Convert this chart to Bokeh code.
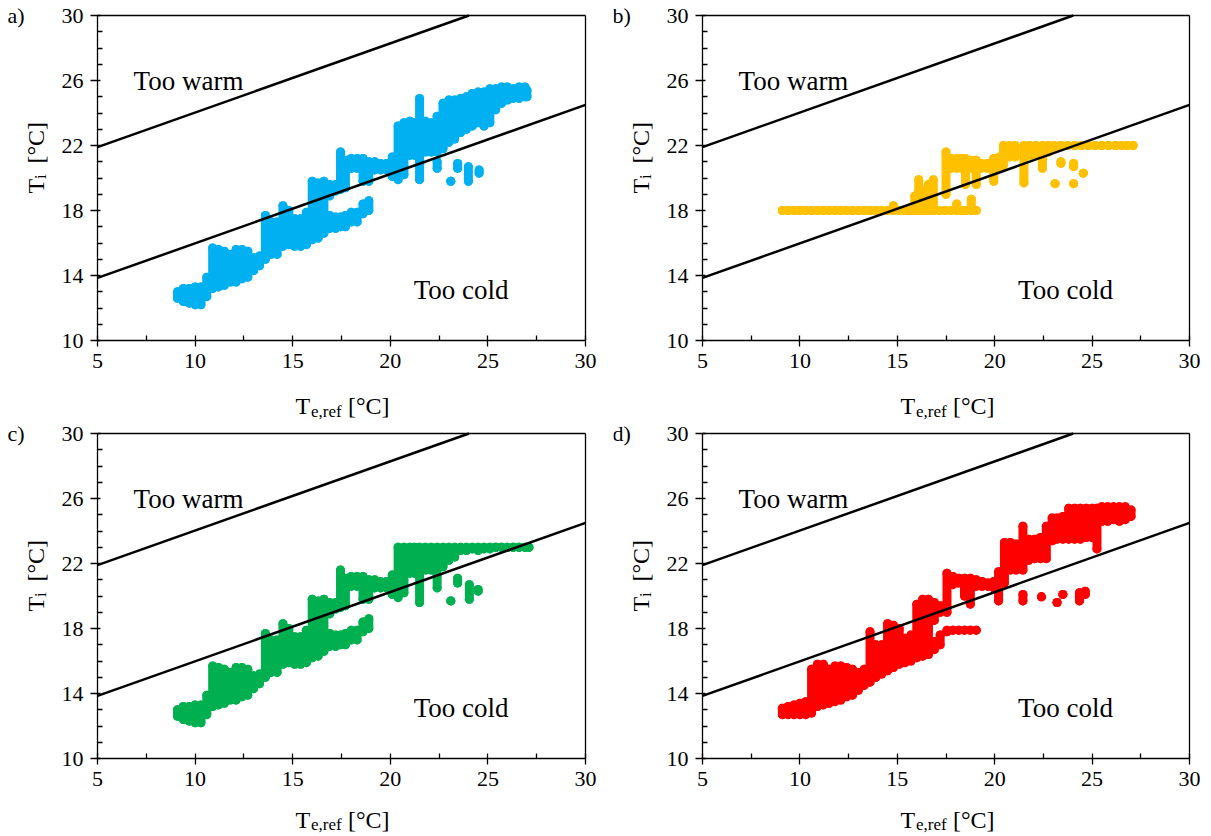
import math
from bokeh.plotting import figure
from bokeh.layouts import column, row
from bokeh.models import FixedTicker, Label, ColumnDataSource, LinearAxis, Range1d
from bokeh.embed import file_html
from bokeh.resources import INLINE

# ---------------- axes / reference lines ----------------
x_ticks = [5, 10, 15, 20, 25, 30]
x_minor_ticks = [7.5, 12.5, 17.5, 22.5, 27.5]
y_ticks = [10, 14, 18, 22, 26, 30]
y_minor_ticks = [11, 12, 13, 15, 16, 17, 19, 20, 21, 23, 24, 25, 27, 28, 29]

upper_limit_te = [5, 24.03]
upper_limit_ti = [21.9, 30.0]
lower_limit_te = [5, 30]
lower_limit_ti = [13.85, 24.5]

# ---------------- measured clouds: Te,ref with Ti range (min..max) ----------------
a_te = [9.1, 9.4, 9.7, 10.0, 10.3, 10.6, 10.9, 11.2, 11.5, 11.8, 12.1, 12.4, 12.7, 13.0, 13.3,
        13.6, 13.9, 14.2, 14.5, 14.8, 15.1, 15.4, 15.7, 16.0, 16.3, 16.6, 16.9, 16.9, 17.2, 17.2,
        17.45, 17.45, 17.7, 17.7, 18.0, 18.0, 18.3, 18.3, 18.6, 18.6, 18.9, 18.9, 19.2, 19.5, 19.8,
        20.1, 20.4, 20.7, 21.0, 21.25, 21.5, 21.8, 22.1, 22.4, 22.4, 22.7, 23.0, 23.1, 23.3, 23.45,
        23.6, 23.9, 24.0, 24.2, 24.5, 24.55, 24.8, 25.1, 25.4, 25.7, 26.0, 26.3, 26.6, 26.9, 27.0]
a_ti_min = [12.6, 12.4, 12.3, 12.2, 12.2, 12.7, 13.2, 13.3, 13.4, 13.6, 13.6, 13.8, 13.9, 14.3, 14.6,
            15.0, 15.3, 15.3, 15.8, 15.9, 15.8, 15.8, 15.9, 16.2, 16.3, 16.6, 16.9, 18.9, 16.9, 19.2,
            17.0, 19.3, 17.0, 19.4, 17.3, 20.6, 17.3, 20.6, 17.8, 19.8, 18.0, 19.8, 20.5, 20.5, 20.5,
            20.1, 19.9, 20.2, 21.4, 21.4, 19.9, 21.6, 21.6, 20.6, 21.6, 21.8, 22.2, 19.8, 22.4, 20.6,
            22.8, 23.0, 19.8, 23.2, 23.4, 20.3, 23.2, 23.4, 24.2, 24.6, 24.8, 24.9, 24.9, 25.0, 25.0]
a_ti_max = [13.0, 13.2, 13.2, 13.3, 13.3, 13.9, 15.7, 15.6, 15.5, 15.3, 15.6, 15.6, 15.5, 15.1, 15.2,
            17.7, 17.3, 17.3, 18.3, 18.0, 17.5, 17.5, 17.9, 19.8, 19.7, 19.8, 17.7, 19.6, 17.6, 19.6,
            17.6, 21.6, 17.7, 21.1, 17.9, 21.2, 17.9, 21.2, 18.4, 21.2, 18.6, 21.0, 21.0, 20.9, 20.9,
            21.3, 23.2, 23.4, 23.5, 23.4, 24.9, 23.5, 23.4, 21.0, 23.8, 24.6, 24.8, 19.8, 24.8, 20.9,
            24.9, 25.0, 20.7, 25.2, 25.3, 20.5, 25.3, 25.5, 25.5, 25.6, 25.6, 25.5, 25.6, 25.6, 25.4]

b_te = [9.1, 9.4, 9.7, 10.0, 10.3, 10.6, 10.9, 11.2, 11.5, 11.8, 12.1, 12.4, 12.7, 13.0, 13.3,
        13.6, 13.9, 14.2, 14.5, 14.8, 15.1, 15.4, 15.65, 15.9, 16.1, 16.35, 16.6, 16.85, 17.15, 17.45,
        17.5, 17.75, 17.75, 18.05, 18.05, 18.3, 18.3, 18.5, 18.5, 18.8, 18.8, 19.05, 19.05, 19.3, 19.6,
        19.95, 20.25, 20.45, 20.75, 21.05, 21.5, 21.8, 22.1, 22.45, 22.75, 23.05, 23.1, 23.4, 23.4, 23.75,
        24.05, 24.05, 24.1, 24.45, 24.55, 24.8, 25.15, 25.5, 25.85, 26.2, 26.5, 26.8, 27.1]
b_ti_min = [18.0, 18.0, 18.0, 18.0, 18.0, 18.0, 18.0, 18.0, 18.0, 18.0, 18.0, 18.0, 18.0, 18.0, 18.0,
            18.0, 18.0, 18.0, 18.0, 18.0, 18.0, 18.0, 18.0, 18.0, 18.0, 18.0, 18.0, 18.0, 18.0, 18.0,
            19.0, 18.0, 20.6, 18.0, 20.6, 18.0, 20.6, 18.0, 19.6, 18.0, 20.6, 18.0, 19.6, 20.6, 20.6,
            19.8, 20.6, 20.8, 21.3, 21.3, 19.7, 21.4, 21.4, 20.6, 21.6, 21.8, 19.65, 20.9, 22.0, 22.0,
            20.7, 19.65, 22.0, 22.0, 20.3, 22.0, 22.0, 22.0, 22.0, 22.0, 22.0, 22.0, 22.0]
b_ti_max = [18.0, 18.0, 18.0, 18.0, 18.0, 18.0, 18.0, 18.0, 18.0, 18.0, 18.0, 18.0, 18.0, 18.0, 18.0,
            18.0, 18.0, 18.0, 18.0, 18.3, 18.0, 18.0, 18.0, 18.9, 19.9, 19.2, 19.6, 19.9, 18.0, 18.0,
            21.6, 18.0, 21.2, 18.4, 21.2, 18.0, 21.2, 18.0, 21.2, 18.7, 21.1, 18.0, 21.1, 20.9, 20.9,
            21.2, 21.3, 22.0, 22.0, 22.0, 22.0, 22.0, 22.0, 22.0, 22.0, 22.0, 19.65, 21.0, 22.0, 22.0,
            20.9, 19.65, 22.0, 22.0, 20.3, 22.0, 22.0, 22.0, 22.0, 22.0, 22.0, 22.0, 22.0]

c_te = [9.1, 9.4, 9.7, 10.0, 10.3, 10.6, 10.9, 11.2, 11.5, 11.8, 12.1, 12.4, 12.7, 13.0, 13.3,
        13.6, 13.9, 14.2, 14.5, 14.8, 15.1, 15.4, 15.7, 16.0, 16.3, 16.6, 16.9, 16.9, 17.2, 17.2,
        17.45, 17.45, 17.7, 17.7, 18.0, 18.0, 18.3, 18.3, 18.6, 18.6, 18.9, 18.9, 19.2, 19.5, 19.8,
        20.1, 20.4, 20.7, 21.0, 21.25, 21.5, 21.8, 22.1, 22.4, 22.4, 22.7, 23.0, 23.1, 23.3, 23.45,
        23.6, 23.9, 24.05, 24.2, 24.5, 24.5, 24.8, 25.1, 25.4, 25.7, 26.0, 26.3, 26.6, 26.9, 27.1]
c_ti_min = [12.6, 12.4, 12.3, 12.2, 12.2, 12.7, 13.2, 13.3, 13.4, 13.6, 13.6, 13.8, 13.9, 14.3, 14.6,
            15.0, 15.3, 15.3, 15.8, 15.9, 15.8, 15.8, 15.9, 16.2, 16.3, 16.6, 16.9, 18.9, 16.9, 19.2,
            17.0, 19.3, 17.0, 19.4, 17.3, 20.6, 17.3, 20.6, 17.8, 19.8, 18.0, 19.8, 20.5, 20.5, 20.5,
            20.1, 19.9, 20.2, 21.4, 21.4, 19.6, 21.6, 21.6, 20.5, 21.6, 21.8, 22.2, 19.7, 22.4, 20.8,
            22.8, 22.8, 19.8, 22.9, 20.3, 22.8, 22.9, 22.9, 23.0, 23.0, 23.0, 23.0, 23.0, 23.0, 23.0]
c_ti_max = [13.0, 13.2, 13.2, 13.3, 13.3, 13.9, 15.7, 15.6, 15.5, 15.3, 15.6, 15.6, 15.5, 15.1, 15.2,
            17.7, 17.3, 17.3, 18.3, 18.0, 17.5, 17.5, 17.9, 19.8, 19.7, 19.8, 17.7, 19.6, 17.6, 19.6,
            17.6, 21.6, 17.7, 21.1, 17.9, 21.2, 17.9, 21.2, 18.4, 21.2, 18.6, 21.0, 21.0, 20.9, 20.9,
            21.3, 23.0, 23.0, 23.0, 23.0, 23.0, 23.0, 23.0, 21.3, 23.0, 23.0, 23.0, 19.7, 23.0, 21.1,
            23.0, 23.0, 20.7, 23.0, 20.4, 23.0, 23.0, 23.0, 23.0, 23.0, 23.0, 23.0, 23.0, 23.0, 23.0]

d_te = [9.1, 9.4, 9.7, 10.0, 10.3, 10.6, 10.9, 11.2, 11.5, 11.8, 12.1, 12.4, 12.7, 13.0, 13.3,
        13.6, 13.9, 14.2, 14.5, 14.8, 15.1, 15.4, 15.7, 16.0, 16.3, 16.6, 16.9, 16.9, 17.2, 17.2,
        17.55, 17.55, 17.85, 17.85, 18.15, 18.15, 18.45, 18.45, 18.75, 18.75, 19.05, 19.05, 19.35, 19.65, 19.95,
        20.2, 20.5, 20.8, 21.1, 21.45, 21.45, 21.75, 22.05, 22.35, 22.4, 22.65, 22.95, 23.2, 23.2, 23.5,
        23.5, 23.8, 24.1, 24.35, 24.4, 24.65, 24.7, 25.0, 25.25, 25.5, 25.8, 26.1, 26.4, 26.7, 27.0]
d_ti_min = [12.7, 12.7, 12.7, 12.7, 12.7, 12.8, 13.2, 13.3, 13.4, 13.5, 13.6, 13.8, 13.9, 14.2, 14.5,
            14.7, 15.0, 15.2, 15.4, 15.6, 15.8, 15.9, 16.0, 16.2, 16.3, 16.4, 16.7, 18.5, 17.0, 19.0,
            17.8, 19.0, 17.9, 20.7, 17.9, 20.8, 17.9, 20.0, 17.9, 19.5, 17.9, 20.6, 20.6, 20.6, 20.5,
            19.7, 20.8, 21.6, 21.6, 19.7, 21.6, 22.2, 22.3, 22.3, 19.95, 22.3, 23.4, 19.6, 23.5, 20.1,
            23.5, 23.5, 23.5, 19.7, 23.5, 20.1, 23.6, 23.6, 22.9, 24.6, 24.6, 24.7, 24.6, 24.7, 24.9]
d_ti_max = [13.1, 13.2, 13.3, 13.4, 13.5, 15.5, 15.8, 15.8, 15.5, 15.7, 15.7, 15.6, 15.5, 15.3, 15.5,
            17.8, 17.0, 17.0, 18.3, 18.2, 18.0, 17.4, 17.6, 19.5, 19.8, 19.8, 17.2, 19.6, 17.6, 19.4,
            17.9, 21.4, 17.9, 21.2, 17.9, 21.1, 17.9, 21.1, 17.9, 21.1, 17.9, 21.0, 20.9, 20.8, 20.9,
            21.5, 23.3, 23.3, 23.2, 20.1, 24.3, 23.5, 23.5, 23.6, 19.95, 24.3, 24.8, 19.6, 24.8, 20.1,
            24.9, 25.4, 25.4, 20.2, 25.4, 20.3, 25.4, 25.4, 25.4, 25.5, 25.5, 25.5, 25.5, 25.5, 25.3]

panel_letters = ["a)", "b)", "c)", "d)"]
panel_colors = ["#00B0F0", "#FFC000", "#00B050", "#FF0000"]

for arrs in [(a_te, a_ti_min, a_ti_max), (b_te, b_ti_min, b_ti_max),
             (c_te, c_ti_min, c_ti_max), (d_te, d_ti_min, d_ti_max)]:
    assert len(arrs[0]) == len(arrs[1]) == len(arrs[2]), [len(v) for v in arrs]

FONT = "Liberation Serif"
PH = 325  # panel height in px


def style_axis(ax):
    ax.axis_line_color = "black"
    ax.axis_line_width = 1.3
    ax.major_tick_line_color = "black"
    ax.major_tick_line_width = 1.3
    ax.minor_tick_line_color = "black"
    ax.minor_tick_line_width = 1.3
    ax.minor_tick_out = 0
    ax.minor_tick_in = 5
    ax.major_label_text_font = FONT
    ax.major_label_text_font_size = "22px"
    ax.major_label_text_color = "black"
    ax.major_label_standoff = 7


def edge_axis(loc, bounds):
    return LinearAxis(fixed_location=loc, bounds=bounds, ticker=FixedTicker(ticks=[]),
                      major_tick_in=0, major_tick_out=0, minor_tick_in=0, minor_tick_out=0,
                      major_label_text_font_size="0px", axis_line_color="black",
                      axis_line_width=1.3)


def build(letter, te, lo, hi, color, fig_w, fig_h, left_px, top_px, pw, xlab_down, sub_down):
    sx = 25.0 / pw
    sy = 20.0 / PH
    x0 = 5 - left_px * sx
    y1 = 30 + top_px * sy
    p = figure(width=fig_w, height=fig_h,
               x_range=Range1d(x0, x0 + fig_w * sx), y_range=Range1d(y1 - fig_h * sy, y1),
               x_axis_type=None, y_axis_type=None,
               output_backend="svg", toolbar_location=None, min_border=0,
               background_fill_color="white", border_fill_color="white",
               outline_line_color=None)

    xa = LinearAxis(fixed_location=10, bounds=(5, 30),
                    ticker=FixedTicker(ticks=x_ticks, minor_ticks=x_minor_ticks))
    style_axis(xa)
    xa.major_tick_out = 6
    xa.major_tick_in = 5
    p.add_layout(xa, "below")

    ya = LinearAxis(fixed_location=5, bounds=(10, 30),
                    ticker=FixedTicker(ticks=y_ticks, minor_ticks=y_minor_ticks))
    style_axis(ya)
    ya.major_tick_out = 7
    ya.major_tick_in = 3
    p.add_layout(ya, "left")

    p.add_layout(edge_axis(30, (5, 30)), "above")
    p.add_layout(edge_axis(30, (10, 30)), "right")

    src = ColumnDataSource(dict(te=te, lo=lo, hi=hi))
    p.segment(x0="te", y0="lo", x1="te", y1="hi", source=src,
              line_color=color, line_width=9, line_cap="round")
    p.scatter(x="te", y="lo", source=src, size=9, fill_color=color, line_color=None)
    p.scatter(x="te", y="hi", source=src, size=9, fill_color=color, line_color=None)

    p.line(upper_limit_te, upper_limit_ti, line_color="black", line_width=2.5)
    p.line(lower_limit_te, lower_limit_ti, line_color="black", line_width=2.5)

    def lab(x, y, text, size, **kw):
        p.add_layout(Label(x=x, y=y, text=text, text_font=FONT, text_font_size=size,
                           text_color="black", **kw))

    lab(6.85, 26.0, "Too warm", "27px", text_align="left", text_baseline="alphabetic")
    lab(21.2, 13.08, "Too cold", "27px", text_align="left", text_baseline="alphabetic")
    lab(5 - 90 * sx, 30, letter, "22px", text_align="left", text_baseline="middle")

    # x axis title: T_e,ref [°C]
    lab(5 + 198 * sx, 10 - xlab_down * sy, "T", "24px", text_align="left", text_baseline="alphabetic")
    lab(5 + 213.5 * sx, 10 - sub_down * sy, "e,ref", "17px", text_align="left",
        text_baseline="alphabetic")
    lab(5 + 250.5 * sx, 10 - xlab_down * sy, "[°C]", "24px", text_align="left",
        text_baseline="alphabetic")

    # y axis title: T_i [°C] (rotated)
    rot = dict(angle=math.pi / 2, angle_units="rad", text_align="left", text_baseline="alphabetic")
    lab(5 - 62 * sx, 10 + 147 * sy, "T", "24px", **rot)
    lab(5 - 57 * sx, 10 + 161.5 * sy, "i", "17px", **rot)
    lab(5 - 62 * sx, 10 + 177 * sy, "[°C]", "24px", **rot)
    return p


# page has no margin: row 1 y 0..420, row 2 y 420..835 ; left column x 0..613, right 613..1209
pa = build(panel_letters[0], a_te, a_ti_min, a_ti_max, panel_colors[0], 613, 420, 97, 15, 488, 65, 71)
pb = build(panel_letters[1], b_te, b_ti_min, b_ti_max, panel_colors[1], 596, 420, 89, 15, 487, 65, 71)
pc = build(panel_letters[2], c_te, c_ti_min, c_ti_max, panel_colors[2], 613, 415, 97, 13, 488, 61, 66)
pd = build(panel_letters[3], d_te, d_ti_min, d_ti_max, panel_colors[3], 596, 415, 89, 13, 487, 61, 66)

layout = column(row(pa, pb, spacing=0), row(pc, pd, spacing=0), spacing=0)

with open("out.html", "w") as f:
    f.write(file_html(layout, INLINE))
